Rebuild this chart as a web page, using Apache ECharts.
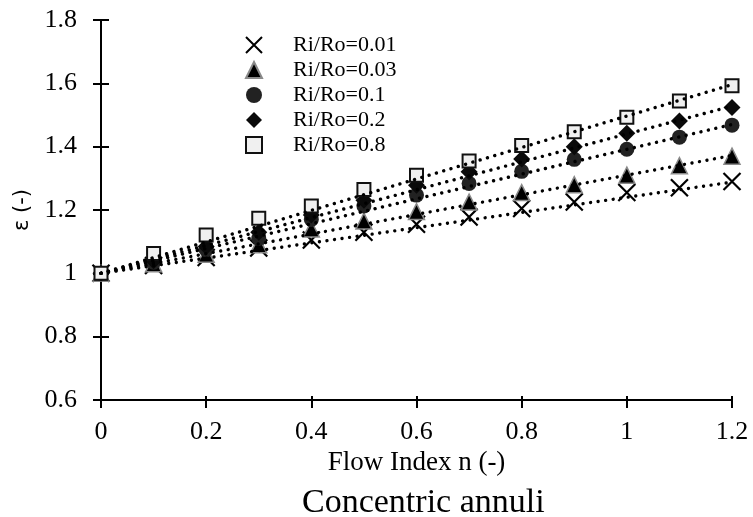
<!DOCTYPE html>
<html>
<head>
<meta charset="utf-8">
<script src="https://cdn.jsdelivr.net/npm/echarts@6/dist/echarts.min.js"></script>
<style>
  html, body { margin: 0; padding: 0; background: #fff; }
  #chart { width: 753px; height: 517px; }
</style>
</head>
<body>
<div id="chart"></div>
<script>
// flow index n
const flowIndex = [0, 0.1, 0.2, 0.3, 0.4, 0.5, 0.6, 0.7, 0.8, 0.9, 1.0, 1.1, 1.2];

// epsilon values, one list per radius ratio
const eps001 = [1.0, 1.025, 1.05, 1.08, 1.105, 1.13, 1.155, 1.178, 1.205, 1.225, 1.255, 1.27, 1.29];
const eps003 = [1.0, 1.03, 1.06, 1.09, 1.14, 1.165, 1.195, 1.225, 1.255, 1.28, 1.31, 1.34, 1.37];
const eps01  = [1.0, 1.035, 1.075, 1.11, 1.17, 1.213, 1.247, 1.284, 1.322, 1.36, 1.392, 1.43, 1.468];
const eps02  = [1.0, 1.04, 1.085, 1.13, 1.184, 1.231, 1.278, 1.321, 1.361, 1.40, 1.442, 1.481, 1.524];
const eps08  = [1.0, 1.063, 1.121, 1.174, 1.213, 1.265, 1.31, 1.355, 1.404, 1.447, 1.493, 1.544, 1.592];

// linear trend lines: start and end value (n = 0 and n = 1.2)
const trendX = [0, 1.2];
const trend001 = [1.0, 1.288];
const trend003 = [1.0, 1.372];
const trend01  = [1.0, 1.47];
const trend02  = [1.0, 1.528];
const trend08  = [1.0, 1.596];

const seriesNames = ["Ri/Ro=0.01", "Ri/Ro=0.03", "Ri/Ro=0.1", "Ri/Ro=0.2", "Ri/Ro=0.8"];

const SERIF = "'Liberation Serif', 'DejaVu Serif', serif";

function pairs(xs, ys) {
  return xs.map(function (x, i) { return [x, ys[i]]; });
}

const markerStyles = [
  { symbol: "path://M0,0L10,10M10,0L0,10", size: 17,
    itemStyle: { color: "rgba(0,0,0,0)", borderColor: "#000", borderWidth: 2.2, opacity: 1 } },
  { symbol: "triangle", size: 16,
    itemStyle: { color: "#000", borderColor: "#8a8a8a", borderWidth: 1.5, opacity: 1 } },
  { symbol: "circle", size: 15,
    itemStyle: { color: "#222", borderWidth: 0, opacity: 1 } },
  { symbol: "diamond", size: 17,
    itemStyle: { color: "#0a0a0a", borderWidth: 0, opacity: 1 } },
  { symbol: "rect", size: 13,
    itemStyle: { color: "#f0f0f0", borderColor: "#111", borderWidth: 2, opacity: 1 } }
];

const values = [eps001, eps003, eps01, eps02, eps08];
const trends = [trend001, trend003, trend01, trend02, trend08];

const series = [];
values.forEach(function (vals, i) {
  const m = markerStyles[i];
  series.push({
    name: seriesNames[i],
    type: "scatter",
    symbol: m.symbol,
    symbolSize: m.size,
    itemStyle: m.itemStyle,
    emphasis: { disabled: true },
    data: pairs(flowIndex, vals),
    z: 2 + i
  });
});
trends.forEach(function (t, i) {
  series.push({
    name: "trend" + i,
    type: "line",
    data: pairs(trendX, t),
    symbol: "none",
    silent: true,
    lineStyle: { color: "#000", width: 3.4, type: [0.01, 7.6], cap: "round" },
    z: 10
  });
});

const axisFont = { fontFamily: SERIF, fontSize: 26, color: "#000" };

const chart = echarts.init(document.getElementById("chart"), null, { renderer: "canvas" });
chart.setOption({
  animation: false,
  backgroundColor: "#fff",
  title: {
    text: "Concentric annuli",
    left: 297,
    top: 481,
    textStyle: { fontFamily: SERIF, fontSize: 34, fontWeight: "normal", color: "#000" }
  },
  legend: {
    data: seriesNames,
    orient: "vertical",
    left: 240,
    top: 29,
    itemWidth: 16,
    itemHeight: 16,
    itemGap: 3,
    textStyle: { fontFamily: SERIF, fontSize: 22, color: "#000", padding: [0, 0, 0, 26] }
  },
  grid: { left: 101, right: 21, top: 20, bottom: 117 },
  xAxis: [{
    type: "value",
    min: 0,
    max: 1.2,
    interval: 0.2,
    name: "Flow Index n (-)",
    nameLocation: "middle",
    nameGap: 40,
    nameTextStyle: { fontFamily: SERIF, fontSize: 27, color: "#000" },
    axisLine: { lineStyle: { color: "#000", width: 2 } },
    axisTick: { length: 8, lineStyle: { color: "#000", width: 2 } },
    axisLabel: Object.assign({ margin: 19 }, axisFont),
    splitLine: { show: false }
  }, {
    type: "value",
    min: 0,
    max: 1.2,
    interval: 0.2,
    position: "bottom",
    axisLine: { show: false },
    axisTick: { inside: true, length: 4, lineStyle: { color: "#000", width: 2 } },
    axisLabel: { show: false },
    splitLine: { show: false }
  }],
  yAxis: [{
    type: "value",
    min: 0.6,
    max: 1.8,
    interval: 0.2,
    name: "ε (-)",
    nameLocation: "middle",
    nameGap: 68,
    nameTextStyle: { fontFamily: "'DejaVu Sans', sans-serif", fontSize: 21, color: "#000" },
    axisLine: { show: true, lineStyle: { color: "#000", width: 2 } },
    axisTick: { show: true, length: 8, lineStyle: { color: "#000", width: 2 } },
    axisLabel: Object.assign({ margin: 24 }, axisFont),
    splitLine: { show: false }
  }, {
    type: "value",
    min: 0.6,
    max: 1.8,
    interval: 0.2,
    position: "left",
    axisLine: { show: false },
    axisTick: { show: true, inside: true, length: 8, lineStyle: { color: "#000", width: 2 } },
    axisLabel: { show: false },
    splitLine: { show: false }
  }],
  series: series
});
</script>
</body>
</html>
